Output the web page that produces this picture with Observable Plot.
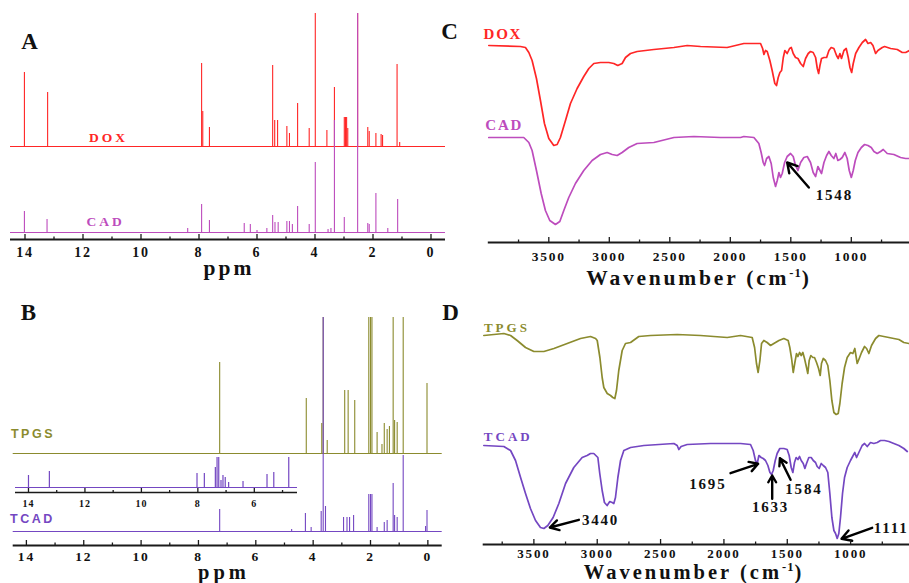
<!DOCTYPE html>
<html><head><meta charset="utf-8">
<script src="https://cdn.jsdelivr.net/npm/d3@7"></script>
<script src="https://cdn.jsdelivr.net/npm/@observablehq/plot@0.6"></script>
<style>
html,body{margin:0;padding:0;background:#fff;}
#fig{position:relative;width:909px;height:583px;overflow:hidden;background:#fff;}
.panel{position:absolute;}
.panel svg{display:block;}
#overlay{position:absolute;left:0;top:0;pointer-events:none;}
</style></head><body><div id="fig"></div>
<script>
// ---------- colours ----------
const cDOX = "#ff2626", cCAD = "#bd4cbd", cTPGS = "#8b8b2e", cTCAD = "#7447c2";

// ---------- 1H NMR (ppm, peak height above the trace baseline, a.u.) ----------
const doxBase = 93, cadBase = 7;
const doxNMR = [[14.02,74],[13.22,54],[7.91,83],[7.87,35],[7.64,19],[5.46,81],[5.39,26],[5.29,26],[4.97,20],[4.88,13],[4.60,43],[4.20,18],[3.99,140],[3.59,16],[3.33,59],[2.99,29],[2.95,29],[2.91,29],[2.87,18],[2.53,140],[2.18,19],[2.13,15],[1.90,13],[1.72,12],[1.67,11],[1.17,82],[1.08,4]];
const cadNMR = [[14.02,21],[13.24,13],[8.39,4],[7.91,28],[7.64,12],[6.44,9],[6.23,8],[6.00,2],[5.66,4],[5.46,17],[5.38,10],[5.27,10],[4.97,11],[4.88,11],[4.78,8],[4.60,26],[4.20,8],[3.99,70],[3.55,3],[3.45,4],[3.33,112],[2.99,15],[2.53,230],[2.18,9],[2.13,8],[1.90,39],[1.49,4],[1.15,33]];

const tpgsBase = 92, tcadBase = 14, insetBase = 5;
const tpgsNMR = [[7.26,91],[4.24,55],[3.70,30],[3.65,300],[3.51,13],[2.90,63],[2.78,63],[2.55,53],[2.06,300],[2.00,300],[1.95,300],[1.77,21],[1.60,9],[1.52,30],[1.42,24],[1.34,27],[1.21,300],[1.16,33],[1.07,31],[0.86,300],[0.03,70]];
const tcadNMR = [[7.26,22],[4.75,2],[4.27,18],[4.07,4],[3.72,20],[3.65,300],[3.57,25],[2.94,14],[2.82,14],[2.73,14],[2.59,16],[2.06,37],[2.00,37],[1.95,37],[1.77,4],[1.52,9],[1.42,11],[1.21,48],[1.16,16],[1.07,14],[0.86,76],[0.08,5],[0.03,21]];
const tcadInsetNMR = [[14.0,12],[13.26,16],[8.03,14],[7.77,14],[7.38,20],[7.32,30],[7.26,30],[7.18,7],[7.11,12],[7.03,10],[6.91,5],[6.40,6],[5.55,13],[5.31,15],[4.78,30]];

const nmrMajor = [14,12,10,8,6,4,2,0];
const nmrMinor = [13,11,9,7,5,3,1];
const insetMajor = [14,12,10,8,6];
const insetMinor = [13,11,9,7,5];

// ---------- FTIR (wavenumber cm-1, transmittance a.u.) ----------
const doxIR = [[3996,197],[3734,196],[3693,195],[3665,190],[3638,182],[3602,164],[3569,142],[3536,119],[3500,104],[3459,97],[3431,98],[3404,105],[3362,122],[3321,139],[3266,154],[3211,166],[3169,174],[3128,179],[3073,180],[3004,180],[2963,179],[2930,177],[2894,179],[2866,185],[2825,189],[2770,191],[2632,193],[2466,195],[2356,197],[2246,196],[2026,195],[1888,199],[1769,199],[1750,199],[1733,194],[1722,188],[1709,192],[1695,191],[1673,182],[1654,172],[1632,159],[1618,157],[1604,165],[1590,170],[1576,172],[1562,185],[1549,192],[1530,189],[1510,194],[1496,195],[1480,189],[1461,185],[1441,184],[1419,179],[1397,176],[1378,184],[1356,189],[1337,191],[1315,190],[1295,185],[1281,174],[1270,169],[1259,177],[1246,184],[1226,185],[1204,185],[1185,192],[1166,195],[1144,194],[1122,187],[1108,184],[1094,189],[1081,184],[1061,192],[1042,194],[1025,185],[1011,175],[997,170],[984,179],[964,189],[937,195],[909,200],[882,203],[862,199],[840,200],[821,197],[799,189],[780,192],[744,195],[725,196],[675,194],[620,193],[579,190],[551,190],[518,192]];
const cadIR = [[3996,105],[3707,105],[3665,100],[3638,92],[3602,72],[3563,49],[3528,32],[3492,22],[3445,18],[3409,21],[3376,32],[3335,45],[3280,59],[3211,72],[3142,82],[3073,88],[3018,90],[2976,88],[2935,87],[2894,90],[2839,95],[2770,99],[2632,100],[2466,105],[2301,106],[2081,105],[1915,105],[1888,106],[1805,105],[1764,99],[1745,90],[1728,80],[1717,77],[1700,84],[1681,86],[1662,79],[1645,65],[1626,56],[1612,62],[1598,70],[1585,65],[1571,69],[1551,80],[1530,86],[1502,89],[1480,86],[1461,77],[1441,72],[1419,80],[1392,85],[1364,86],[1337,80],[1315,70],[1295,66],[1276,76],[1259,72],[1246,69],[1226,80],[1204,87],[1185,91],[1166,87],[1144,84],[1128,89],[1111,82],[1094,83],[1075,85],[1053,90],[1034,84],[1017,72],[1000,65],[984,72],[967,82],[945,90],[917,95],[890,98],[862,97],[835,95],[813,91],[786,89],[758,91],[736,93],[703,89],[648,88],[593,85],[551,84],[518,84]];
const tpgsIR = [[3895,209],[3737,211],[3684,209],[3632,204],[3566,197],[3500,193],[3421,193],[3342,196],[3237,201],[3132,206],[3053,208],[3013,206],[3000,204],[2979,187],[2961,167],[2948,157],[2921,151],[2895,149],[2877,147],[2861,146],[2848,154],[2830,174],[2803,194],[2777,201],[2737,202],[2672,208],[2579,209],[2369,210],[2185,209],[1974,207],[1869,209],[1777,207],[1758,197],[1743,181],[1730,172],[1716,184],[1703,201],[1685,204],[1659,202],[1632,199],[1606,201],[1566,204],[1527,206],[1493,204],[1480,197],[1466,186],[1453,172],[1440,182],[1427,191],[1416,188],[1403,192],[1390,189],[1377,192],[1364,186],[1348,177],[1338,171],[1327,184],[1314,189],[1298,187],[1285,187],[1269,182],[1253,176],[1240,169],[1230,181],[1216,186],[1198,184],[1180,179],[1164,164],[1148,144],[1132,132],[1114,130],[1098,131],[1085,141],[1067,161],[1048,177],[1027,187],[1001,192],[982,191],[967,196],[948,181],[932,186],[914,192],[890,198],[874,196],[856,191],[835,199],[803,206],[777,209],[738,208],[698,207],[659,206],[619,205],[580,202],[540,201]];
const tcadIR = [[3895,99],[3737,98],[3684,94],[3645,84],[3605,67],[3566,51],[3527,36],[3487,24],[3448,17],[3421,16],[3390,19],[3348,27],[3303,41],[3250,61],[3185,77],[3119,87],[3080,89],[3053,91],[3027,91],[2995,87],[2980,71],[2961,54],[2943,42],[2922,39],[2901,43],[2882,42],[2869,41],[2856,47],[2837,67],[2816,84],[2790,94],[2737,97],[2632,99],[2395,101],[2369,99],[2356,95],[2338,98],[2290,100],[2106,101],[1974,101],[1869,101],[1790,100],[1769,94],[1751,84],[1737,81],[1724,89],[1706,87],[1690,86],[1672,84],[1653,79],[1637,72],[1624,70],[1611,74],[1595,84],[1580,91],[1559,96],[1527,96],[1501,95],[1485,89],[1469,77],[1456,72],[1443,82],[1430,87],[1416,85],[1403,88],[1390,84],[1374,81],[1361,76],[1348,81],[1330,87],[1311,87],[1295,84],[1277,82],[1264,78],[1248,76],[1232,81],[1216,79],[1198,77],[1180,72],[1164,51],[1148,27],[1132,14],[1119,11],[1106,6],[1093,11],[1080,27],[1064,51],[1048,67],[1027,77],[1001,84],[980,89],[967,92],[953,87],[935,92],[909,99],[890,101],[869,98],[843,102],[817,101],[790,102],[764,104],[732,104],[698,103],[659,101],[619,99],[580,96],[553,93]];

const irMajor = [3500,3000,2500,2000,1500,1000];
const irMinor = [3750,3250,2750,2250,1750,1250,750];

// ---------- series labels and annotations (data coordinates) ----------
const labelsA = [{text:"DOX", x:11.12, y:102, c:cDOX},{text:"CAD", x:11.22, y:18, c:cCAD}];
const labelsB = [{text:"TPGS", x:13.77, y:111.7, c:cTPGS},{text:"TCAD", x:13.79, y:26.7, c:cTCAD}];
const labelsC = [{text:"DOX", x:3880, y:208.7, c:cDOX},{text:"CAD", x:3869, y:117.7, c:cCAD}];
const labelsD = [{text:"TPGS", x:3713, y:216.7, c:cTPGS},{text:"TCAD", x:3702, y:107.3, c:cTCAD}];
const annotC = [{label:"1548", x1:1351, y1:55, x2:1530, y2:80, tx:1140, ty:47, anchor:"middle"}];
const annotD = [
  {label:"3440", x1:3145, y1:24.7, x2:3374, y2:17, tx:2974, ty:24.5, anchor:"middle"},
  {label:"1695", x1:1948, y1:71.3, x2:1730, y2:80.7, tx:2127, ty:60, anchor:"middle"},
  {label:"1633", x1:1619, y1:45.7, x2:1619, y2:69, tx:1632, ty:37, anchor:"middle"},
  {label:"1584", x1:1474, y1:64.7, x2:1558, y2:86.3, tx:1369, ty:55.7, anchor:"middle"},
  {label:"1111", x1:830, y1:16.7, x2:1072, y2:5.7, tx:817, ty:16.8, anchor:"start"}
];

// ---------- helpers ----------
const SERIF = "'Liberation Serif','Times New Roman',serif";
const SANS = "'Liberation Sans',Arial,sans-serif";
const fig = document.getElementById("fig");
function place(svg, left, top) {
  const d = document.createElement("div");
  d.className = "panel"; d.style.left = left + "px"; d.style.top = top + "px";
  d.appendChild(svg); fig.appendChild(d);
}
function spacing(svg, map) {
  d3.select(svg).selectAll("text").each(function () {
    const s = map[this.textContent];
    if (s != null) this.style.letterSpacing = s + "px";
  });
}
function axisMarks(cfg) {
  const innerH = cfg.height - cfg.marginTop - cfg.marginBottom;
  return [
    Plot.ruleY([0], {stroke: "#1a1a1a", strokeWidth: cfg.axisW || 1.8}),
    Plot.ruleX(cfg.major, {stroke: "#1a1a1a", strokeWidth: 1.3, insetTop: innerH - (cfg.majLen || 5)}),
    Plot.ruleX(cfg.minor, {stroke: "#1a1a1a", strokeWidth: 1.3, insetTop: innerH - (cfg.minLen || 2.5)}),
    Plot.axisX(cfg.major, {tickSize: 0, tickPadding: cfg.pad, tickFormat: d => String(d), label: null,
      fontSize: cfg.tickFont || 14, fontWeight: "bold", fontFamily: SERIF, fill: "#111"})
  ];
}
function sticks(peaks, base, color, w) {
  return [
    Plot.ruleY([base], {stroke: color, strokeWidth: w || 1.1}),
    Plot.ruleX(peaks, {x: d => d[0], y1: base, y2: d => base + d[1], stroke: color, strokeWidth: w || 1.1, clip: true})
  ];
}
function seriesLabels(labels, size, family) {
  return Plot.text(labels, {x: "x", y: "y", text: "text", fill: d => d.c, fontSize: size, fontWeight: "bold", fontFamily: family});
}
const baseStyle = {fontFamily: SERIF, fontWeight: "bold", letterSpacing: "1.8px", background: "transparent", overflow: "hidden"};

// ---------- Panel A ----------
{
  const cfg = {width: 460, height: 290, marginLeft: 10, marginRight: 15, marginTop: 13, marginBottom: 51,
    major: nmrMajor, minor: nmrMinor, pad: 8};
  const svg = Plot.plot({
    width: cfg.width, height: cfg.height, marginLeft: cfg.marginLeft, marginRight: cfg.marginRight,
    marginTop: cfg.marginTop, marginBottom: cfg.marginBottom, style: baseStyle,
    x: {domain: [14.5, -0.5]}, y: {domain: [0, 226], axis: null},
    marks: [
      ...sticks(doxNMR, doxBase, cDOX),
      ...sticks(cadNMR, cadBase, cCAD),
      seriesLabels(labelsA, 13.5, SERIF),
      ...axisMarks(cfg)
    ]
  });
  spacing(svg, {DOX: 3, CAD: 3});
  place(svg, 0, 0);
}

// ---------- Panel B ----------
{
  const cfg = {width: 460, height: 293, marginLeft: 12.7, marginRight: 18.3, marginTop: 27, marginBottom: 38,
    major: nmrMajor, minor: nmrMinor, pad: 5.5, tickFont: 13.5};
  const svg = Plot.plot({
    width: cfg.width, height: cfg.height, marginLeft: cfg.marginLeft, marginRight: cfg.marginRight,
    marginTop: cfg.marginTop, marginBottom: cfg.marginBottom, style: baseStyle,
    x: {domain: [14.46, -0.5]}, y: {domain: [0, 228], axis: null},
    marks: [
      ...sticks(tpgsNMR, tpgsBase, cTPGS),
      ...sticks(tcadNMR, tcadBase, cTCAD),
      seriesLabels(labelsB, 12.5, SANS),
      ...axisMarks(cfg)
    ]
  });
  spacing(svg, {TPGS: 2.5, TCAD: 2.5});
  place(svg, 0, 290);
}

// ---------- Inset in B (TCAD 4.5-14.5 ppm) ----------
{
  const cfg = {width: 300, height: 75, marginLeft: 15, marginRight: 3, marginTop: 0, marginBottom: 23,
    major: insetMajor, minor: insetMinor, pad: 7, tickFont: 10, axisW: 1.5, majLen: 4, minLen: 2};
  const svg = Plot.plot({
    width: cfg.width, height: cfg.height, marginLeft: cfg.marginLeft, marginRight: cfg.marginRight,
    marginTop: cfg.marginTop, marginBottom: cfg.marginBottom, style: {...baseStyle, letterSpacing: "1px"},
    x: {domain: [14.46, 4.47]}, y: {domain: [0, 52], axis: null},
    marks: [
      ...sticks(tcadInsetNMR, insetBase, cTCAD, 1.2),
      ...axisMarks(cfg)
    ]
  });
  place(svg, 0, 440);
}

// ---------- Panel C ----------
{
  const cfg = {width: 449, height: 290, marginLeft: 27.8, marginRight: 0, marginTop: 10, marginBottom: 48,
    major: irMajor, minor: irMinor, pad: 9, tickFont: 13.5};
  const svg = Plot.plot({
    width: cfg.width, height: cfg.height, marginLeft: cfg.marginLeft, marginRight: cfg.marginRight,
    marginTop: cfg.marginTop, marginBottom: cfg.marginBottom, style: baseStyle,
    x: {domain: [4000, 519]}, y: {domain: [0, 232], axis: null},
    marks: [
      Plot.line(doxIR, {x: d => d[0], y: d => d[1], stroke: cDOX, strokeWidth: 1.7}),
      Plot.line(cadIR, {x: d => d[0], y: d => d[1], stroke: cCAD, strokeWidth: 1.7}),
      seriesLabels(labelsC, 15, SERIF),
      Plot.arrow(annotC, {x1: "x1", y1: "y1", x2: "x2", y2: "y2", stroke: "#000", strokeWidth: 2.4, headLength: 8}),
      Plot.text(annotC, {x: "tx", y: "ty", text: "label", textAnchor: "middle", fontSize: 15, fontWeight: "bold", fontFamily: SERIF, fill: "#111"}),
      ...axisMarks(cfg)
    ]
  });
  spacing(svg, {DOX: 1.7, CAD: 1.7});
  place(svg, 460, 0);
}

// ---------- Panel D ----------
{
  const cfg = {width: 449, height: 293, marginLeft: 22.7, marginRight: 0, marginTop: 10, marginBottom: 39,
    major: irMajor, minor: irMinor, pad: 4.5, tickFont: 13};
  const svg = Plot.plot({
    width: cfg.width, height: cfg.height, marginLeft: cfg.marginLeft, marginRight: cfg.marginRight,
    marginTop: cfg.marginTop, marginBottom: cfg.marginBottom, style: baseStyle,
    x: {domain: [3900, 535.3]}, y: {domain: [0, 244], axis: null},
    marks: [
      Plot.line(tpgsIR, {x: d => d[0], y: d => d[1], stroke: cTPGS, strokeWidth: 1.7}),
      Plot.line(tcadIR, {x: d => d[0], y: d => d[1], stroke: cTCAD, strokeWidth: 1.7}),
      seriesLabels(labelsD, 13, SERIF),
      Plot.arrow(annotD, {x1: "x1", y1: "y1", x2: "x2", y2: "y2", stroke: "#000", strokeWidth: 2.4, headLength: 8}),
      Plot.text(annotD.filter(d => d.anchor === "middle"), {x: "tx", y: "ty", text: "label", textAnchor: "middle", fontSize: 15, fontWeight: "bold", fontFamily: SERIF, fill: "#111"}),
      Plot.text(annotD.filter(d => d.anchor === "start"), {x: "tx", y: "ty", text: "label", textAnchor: "start", fontSize: 15, fontWeight: "bold", fontFamily: SERIF, fill: "#111"}),
      ...axisMarks(cfg)
    ]
  });
  spacing(svg, {TPGS: 3, TCAD: 3});
  place(svg, 460, 290);
}

// ---------- panel letters and axis titles ----------
const ov = d3.select(fig).append("svg").attr("id", "overlay").attr("width", 909).attr("height", 583)
  .attr("font-family", SERIF).attr("font-weight", "bold").attr("text-anchor", "middle").attr("fill", "#111");
const letters = [{t:"A", x:30, y:48.5},{t:"C", x:450, y:38.5},{t:"B", x:29, y:319.5},{t:"D", x:451, y:320}];
letters.forEach(l => ov.append("text").attr("x", l.x).attr("y", l.y).attr("font-size", 23).attr("letter-spacing", "1px").text(l.t));
[{x:229, y:275, s:21.5, ls:3},{x:224, y:579, s:20.5, ls:4}].forEach(p =>
  ov.append("text").attr("x", p.x).attr("y", p.y).attr("font-size", p.s).attr("letter-spacing", p.ls + "px").text("ppm"));
[{x:699, y:284.5, s:21.5, ls:2.8},{x:694, y:579, s:20.5, ls:3}].forEach(p => {
  const t = ov.append("text").attr("x", p.x).attr("y", p.y).attr("font-size", p.s).attr("letter-spacing", p.ls + "px");
  t.append("tspan").text("Wavenumber (cm");
  t.append("tspan").attr("dy", -8).attr("font-size", 12.5).attr("letter-spacing", "1px").text("-1");
  t.append("tspan").attr("dy", 8).text(")");
});
</script></body></html>
